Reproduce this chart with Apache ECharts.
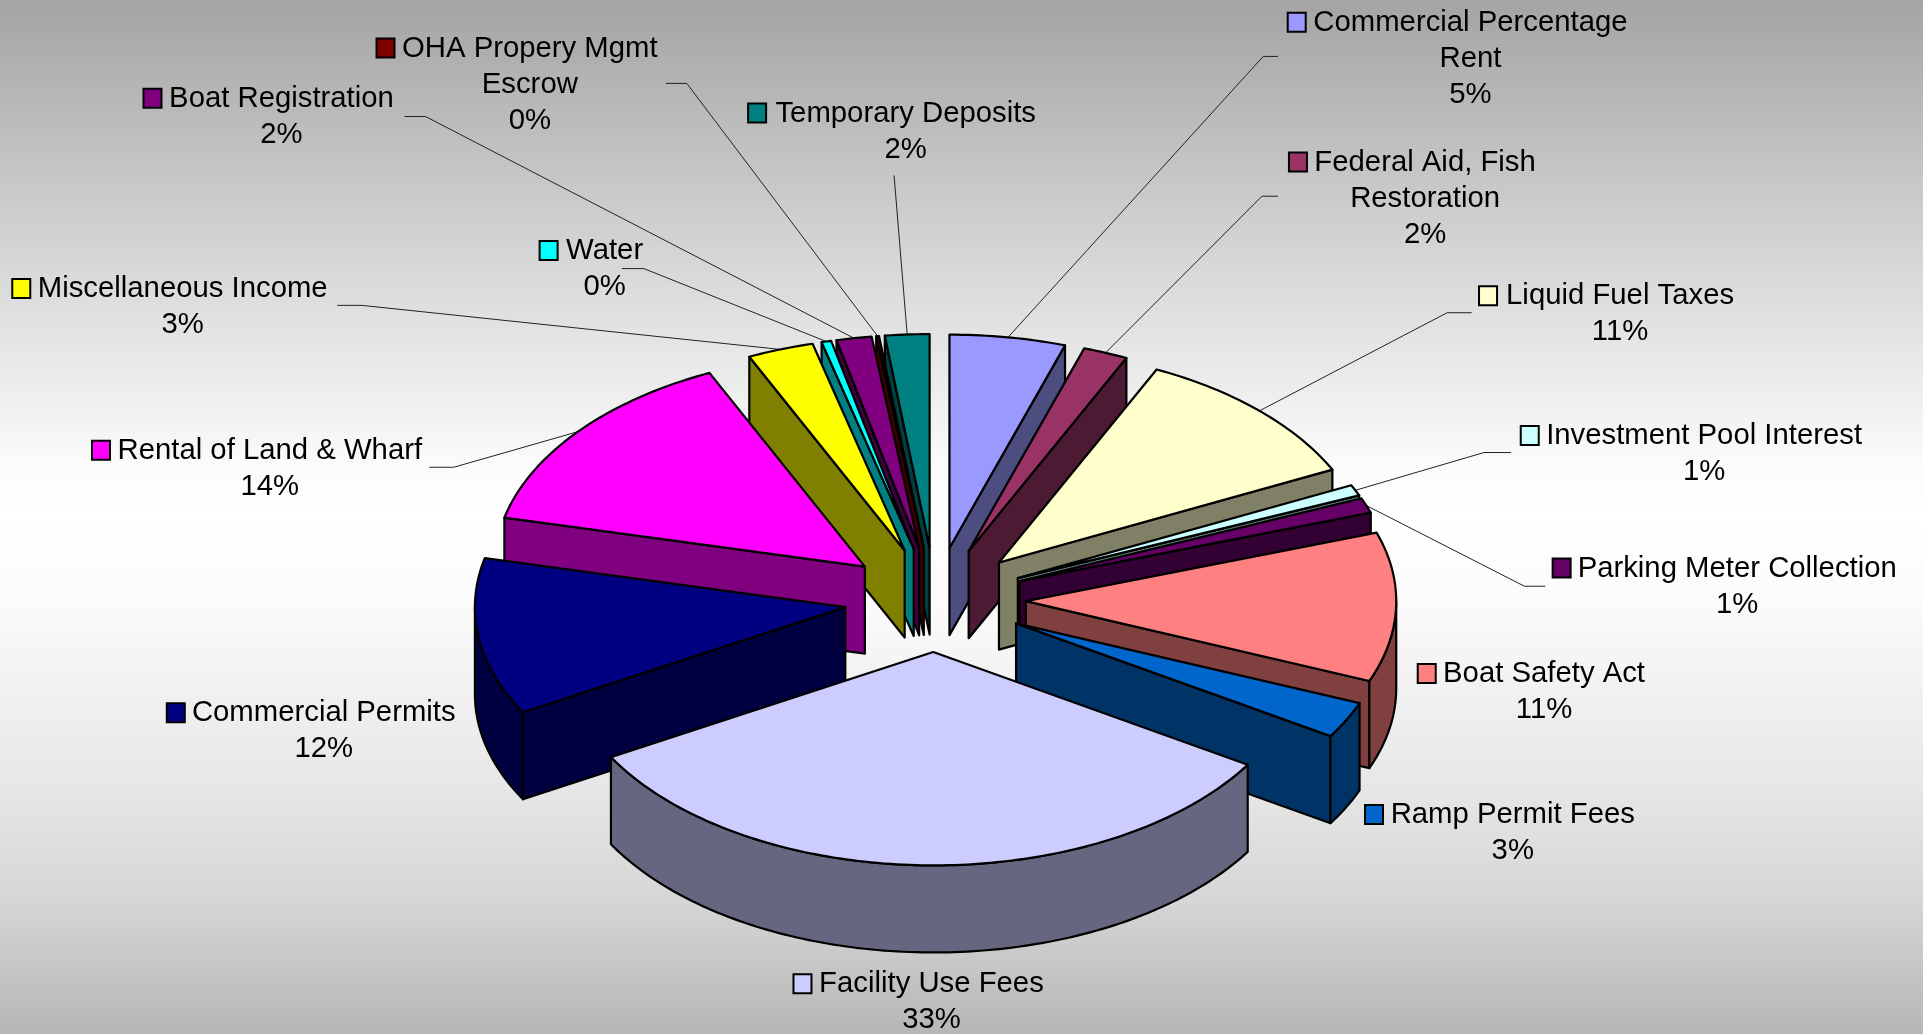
<!DOCTYPE html>
<html><head><meta charset="utf-8">
<style>html,body{margin:0;padding:0;width:100%;height:100%;overflow:hidden}#c{width:1923px;height:1034px}</style>
<script src="https://cdn.jsdelivr.net/npm/echarts@6/dist/echarts.min.js"></script>
</head><body><div id="c"></div>
<script>
// ---- data ----
const categories = ['Commercial Percentage|Rent','Federal Aid, Fish|Restoration','Liquid Fuel Taxes','Investment Pool Interest','Parking Meter Collection','Boat Safety Act','Ramp Permit Fees','Facility Use Fees','Commercial Permits','Rental of Land & Wharf','Miscellaneous Income','Water','Boat Registration','OHA Propery Mgmt|Escrow','Temporary Deposits'];
const shares = [5.05,1.95,10.83,0.83,1.14,11.3,2.76,32.94,11.89,14.42,2.89,0.42,1.53,0.12,1.93];
const colors = ['#9999ff','#993366','#ffffcc','#ccffff','#660066','#ff8080','#0066cc','#ccccff','#000080','#ff00ff','#ffff00','#00ffff','#800080','#800000','#008080'];
// ---- layout (separate from data) in 1568-wide reference units ----
const K = 1923/1568;
const textLeft  = [1071,1072,1227,1261,1287,1177,1134,668,157,96,31,461,138,328,631];
const textRight = [1327,1252,1415,1518,1546,1341,1333,851,371,344,267,525,321,536,846];
const textY     = [18.6,132.6,241.6,355.6,463.6,549.6,664.6,802.6,581.6,367.6,235.6,204.6,80.6,39.6,92.6];
// leader: [start x, elbow x, y]
const leaders = [[1042,1030,46],[1042,1029,160],[1200,1180,255],[1232,1210,369],[1260,1243,478],null,null,null,null,[350,370,381],[275,295,249],[507,525,219],[330,347,95],[543,560,68],[729,729,143]];
const CX=762.5*K, CY=489*K, RX=302*K, RY=174*K, EXPLODE=74*K, DEPTH=71*K;
const FONT='"Liberation Sans",Arial,sans-serif', FS=29.3, LH=36;

const total = shares.reduce((a,b)=>a+b,0);
const starts = []; shares.reduce((acc,v,i)=>{starts[i]=acc;return acc+v;},0);
const toDeg = v => v/total*360;
const rad = d => d*Math.PI/180;
function darken(hex){const n=parseInt(hex.slice(1),16);const f=c=>Math.round(c/2).toString(16).padStart(2,'0');return '#'+f(n>>16&255)+f(n>>8&255)+f(n&255);}
function geom(i){
  const a0=toDeg(starts[i]), a1=toDeg(starts[i]+shares[i]), m=(a0+a1)/2;
  const ax=CX+EXPLODE*Math.sin(rad(m)), ay=CY-EXPLODE*(RY/RX)*Math.cos(rad(m));
  const pt=(d,dz)=>[ax+RX*Math.sin(rad(d)), ay-RY*Math.cos(rad(d))+(dz||0)];
  return {a0,a1,m,ax,ay,pt};
}
function arc(g,from,to,dz){const n=Math.max(2,Math.ceil(Math.abs(to-from)));const out=[];for(let k=0;k<=n;k++)out.push(g.pt(from+(to-from)*k/n,dz));return out;}
const edge={stroke:'#000',lineWidth:2.2,lineJoin:'round'};

function renderSlice(params,api){
  const i=api.value(1);
  const g=geom(i), side=darken(colors[i]), kids=[];
  const poly=(points,fill)=>kids.push({type:'polygon',shape:{points},style:Object.assign({fill},edge)});
  if(g.a1>0&&g.a1<180) poly([[g.ax,g.ay],[g.ax,g.ay+DEPTH],g.pt(g.a1,DEPTH),g.pt(g.a1)],side);
  if(g.a0>180&&g.a0<360) poly([[g.ax,g.ay],[g.ax,g.ay+DEPTH],g.pt(g.a0,DEPTH),g.pt(g.a0)],side);
  const w0=Math.max(g.a0,90), w1=Math.min(g.a1,270);
  if(w1>w0) poly(arc(g,w0,w1,0).concat(arc(g,w1,w0,DEPTH)),side);
  poly([[g.ax,g.ay]].concat(arc(g,g.a0,g.a1,0)),colors[i]);
  return {type:'group',children:kids};
}
function renderLabel(params,api){
  const i=api.value(1), kids=[], g=geom(i);
  const cx=(textLeft[i]+textRight[i])/2*K, y=textY[i]*K;
  const lines=categories[i].split('|').concat([Math.round(shares[i])+'%']);
  lines.forEach((t,k)=>kids.push({type:'text',style:{text:t,x:cx,y:y+k*LH,align:'center',verticalAlign:'middle',font:FS+'px '+FONT,fill:'#000'}}));
  kids.push({type:'rect',shape:{x:(textLeft[i]-21)*K,y:y-10,width:18,height:19},style:{fill:colors[i],stroke:'#000',lineWidth:2}});
  if(leaders[i]){const l=leaders[i];const e=g.pt(g.m);
    kids.push({type:'polyline',shape:{points:[[l[0]*K,l[2]*K],[l[1]*K,l[2]*K],e]},style:{fill:null,stroke:'#222',lineWidth:1}});}
  return {type:'group',children:kids};
}
// paint from the back of the pie to the front
const drawOrder = shares.map((_,i)=>i).sort((p,q)=>Math.abs(geom(q).m-180)-Math.abs(geom(p).m-180));
const sliceData = drawOrder.map(i=>[shares[i],i]);
const labelData = shares.map((v,i)=>[v,i]);
const chart=echarts.init(document.getElementById('c'),null,{renderer:'canvas',width:1923,height:1034});
chart.setOption({
  animation:false,
  backgroundColor:{type:'linear',x:0,y:0,x2:0,y2:1,colorStops:[{offset:0,color:'#a4a4a4'},{offset:0.25,color:'#d6d6d6'},{offset:0.45,color:'#fbfbfb'},{offset:0.5,color:'#ffffff'},{offset:0.58,color:'#fbfbfb'},{offset:0.75,color:'#e8e8e8'},{offset:0.87,color:'#d6d6d6'},{offset:1,color:'#b6b6b6'}]},
  series:[
    {type:'custom',coordinateSystem:'none',renderItem:renderLabel,data:labelData,silent:true,z:1},
    {type:'custom',coordinateSystem:'none',renderItem:renderSlice,data:sliceData,silent:true,z:2}
  ]
});
</script></body></html>
